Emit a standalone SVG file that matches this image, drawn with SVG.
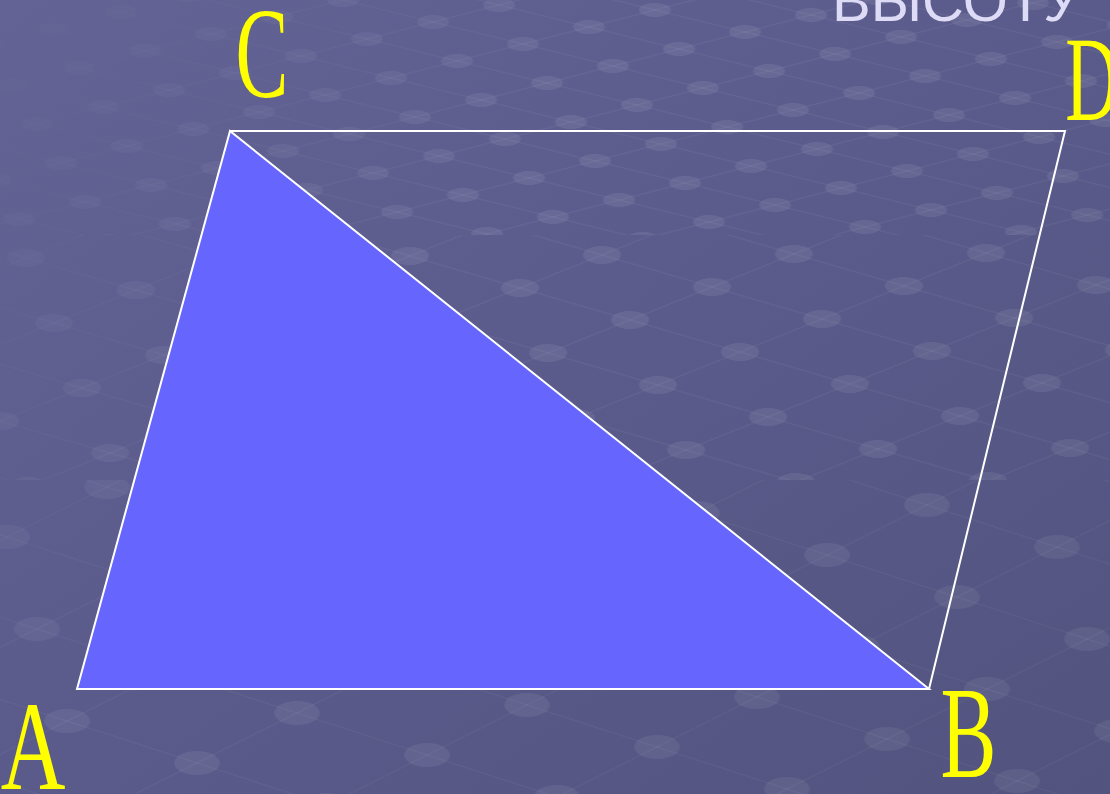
<svg xmlns="http://www.w3.org/2000/svg" width="1110" height="794" viewBox="0 0 1110 794">
<defs>
<linearGradient id="bg" x1="0" y1="0" x2="1" y2="1">
<stop offset="0" stop-color="#636495"/>
<stop offset="0.5" stop-color="#5a5b8b"/>
<stop offset="1" stop-color="#52537e"/>
</linearGradient>
<linearGradient id="fade" gradientUnits="userSpaceOnUse" x1="60" y1="0" x2="420" y2="260">
<stop offset="0" stop-color="#ffffff" stop-opacity="0.1"/>
<stop offset="1" stop-color="#ffffff" stop-opacity="1"/>
</linearGradient>
<mask id="fadeMask" maskUnits="userSpaceOnUse" x="0" y="0" width="1110" height="794">
<rect width="1110" height="794" fill="url(#fade)"/>
</mask>
<pattern id="p1" patternUnits="userSpaceOnUse" width="100" height="100" patternTransform="matrix(0.90 0.22 0.66 -0.17 433 22)">
<g stroke="#ffffff" stroke-opacity="0.045" fill="none">
<path d="M0,0H100M0,100H100" stroke-width="4.5"/>
<path d="M0,0V100M100,0V100" stroke-width="3.4"/>
</g>
<g fill="#ffffff" fill-opacity="0.075">
<ellipse rx="16" ry="7" transform="matrix(0.570 0.738 2.213 -3.018 0 0)"/>
<ellipse rx="16" ry="7" transform="matrix(0.570 0.738 2.213 -3.018 100 0)"/>
<ellipse rx="16" ry="7" transform="matrix(0.570 0.738 2.213 -3.018 0 100)"/>
<ellipse rx="16" ry="7" transform="matrix(0.570 0.738 2.213 -3.018 100 100)"/>
</g>
</pattern>
<pattern id="p2" patternUnits="userSpaceOnUse" width="100" height="100" patternTransform="matrix(1.10 0.32 0.82 -0.33 602 255)">
<g stroke="#ffffff" stroke-opacity="0.045" fill="none">
<path d="M0,0H100M0,100H100" stroke-width="2.7"/>
<path d="M0,0V100M100,0V100" stroke-width="2.1"/>
</g>
<g fill="#ffffff" fill-opacity="0.075">
<ellipse rx="19" ry="9" transform="matrix(0.528 0.512 1.311 -1.759 0 0)"/>
<ellipse rx="19" ry="9" transform="matrix(0.528 0.512 1.311 -1.759 100 0)"/>
<ellipse rx="19" ry="9" transform="matrix(0.528 0.512 1.311 -1.759 0 100)"/>
<ellipse rx="19" ry="9" transform="matrix(0.528 0.512 1.311 -1.759 100 100)"/>
</g>
</pattern>
<pattern id="p3" patternUnits="userSpaceOnUse" width="100" height="100" patternTransform="matrix(1.30 0.42 1.00 -0.50 827 555)">
<g stroke="#ffffff" stroke-opacity="0.04" fill="none">
<path d="M0,0H100M0,100H100" stroke-width="1.9"/>
<path d="M0,0V100M100,0V100" stroke-width="1.6"/>
</g>
<g fill="#ffffff" fill-opacity="0.065">
<ellipse rx="23" ry="12" transform="matrix(0.467 0.393 0.935 -1.215 0 0)"/>
<ellipse rx="23" ry="12" transform="matrix(0.467 0.393 0.935 -1.215 100 0)"/>
<ellipse rx="23" ry="12" transform="matrix(0.467 0.393 0.935 -1.215 0 100)"/>
<ellipse rx="23" ry="12" transform="matrix(0.467 0.393 0.935 -1.215 100 100)"/>
</g>
</pattern>
</defs>
<style>
.lbl { font-family: "Liberation Serif", "Times New Roman", serif; fill: #ffff00; text-anchor: middle; }
.edge { stroke: #ffffff; stroke-width: 2; fill: none; stroke-linejoin: miter; }
.title { font-family: "Liberation Sans", Arial, sans-serif; fill: #dddbf6; font-size: 58px; }
</style>
<g id="background">
<rect width="1110" height="794" fill="url(#bg)"/>
<g mask="url(#fadeMask)">
<rect x="0" y="0" width="1110" height="235" fill="url(#p1)"/>
<rect x="0" y="235" width="1110" height="245" fill="url(#p2)"/>
<rect x="0" y="480" width="1110" height="314" fill="url(#p3)"/>
</g>
</g>
<g id="title">
<text class="title" x="832" y="21">ВЫСОТУ</text>
</g>
<g id="triangle-ACB">
<polygon points="77,689 929,689 230,131" fill="#6666ff"/>
</g>
<g id="connectors">
<polyline class="edge" points="929,689 1065,131 230,131"/>
<polygon class="edge" points="77,689 929,689 230,131"/>
</g>
<g id="label-C"><text class="lbl" font-size="130" transform="translate(262,97) scale(0.61,1)">C</text></g>
<g id="label-D"><text class="lbl" font-size="120" transform="translate(1092,120) scale(0.62,1)">D</text></g>
<g id="label-A"><text class="lbl" font-size="128" transform="translate(33,789) scale(0.7,1)">A</text></g>
<g id="label-B"><text class="lbl" font-size="131" transform="translate(968.5,777) scale(0.64,1)">B</text></g>
</svg>
